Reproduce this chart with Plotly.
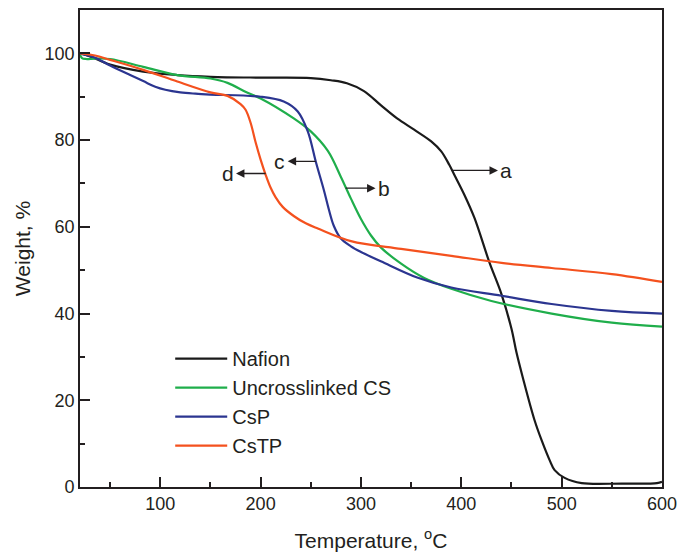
import plotly.graph_objects as go

# ---- data ----
nafion_x = [20, 30, 50, 83, 117, 150, 200, 250, 270, 286, 303, 320, 336, 353, 370, 380, 388, 393, 403, 413, 428, 440, 450, 455, 461, 473, 480, 488, 493, 503, 520, 560, 595, 600]
nafion_y = [100, 99.3, 97.4, 95.8, 95.0, 94.6, 94.4, 94.3, 93.8, 93.1, 91.3, 88.0, 85.0, 82.4, 79.7, 77.4, 74.3, 72.0, 67.4, 62.1, 51.8, 44.5, 36.5, 31.0, 25.5, 15.4, 10.8, 6.2, 3.9, 2.1, 0.9, 0.8, 0.9, 1.2]

ucs_x = [20, 22, 26, 35, 50, 83, 117, 150, 167, 187, 200, 233, 250, 267, 280, 290, 300, 310, 320, 340, 363, 390, 430, 490, 550, 600]
ucs_y = [99.8, 98.9, 98.7, 98.8, 98.7, 96.9, 95.0, 94.2, 93.2, 90.9, 89.6, 85.0, 82.0, 77.5, 71.5, 66.5, 61.8, 58.0, 55.2, 51.5, 48.2, 45.7, 42.9, 40.0, 37.9, 37.0]

csp_x = [20, 35, 50, 70, 83, 95, 105, 120, 135, 150, 200, 223, 237, 247, 255, 263, 268, 273, 280, 290, 300, 323, 356, 390, 440, 490, 550, 600]
csp_y = [100, 99.0, 97.2, 95.0, 93.6, 92.3, 91.6, 91.0, 90.7, 90.5, 90.0, 88.9, 86.6, 82.0, 75.0, 68.5, 64.0, 60.2, 57.3, 55.5, 54.2, 51.7, 48.3, 46.0, 44.1, 42.2, 40.6, 40.0]

cstp_x = [20, 35, 50, 83, 117, 150, 167, 180, 185, 190, 195, 200, 205, 210, 215, 222, 233, 245, 257, 290, 340, 390, 440, 490, 550, 600]
cstp_y = [100, 99.5, 98.5, 96.2, 93.5, 91.0, 90.2, 88.3, 87.0, 84.0, 79.5, 75.5, 72.0, 69.0, 66.8, 64.6, 62.5, 60.8, 59.6, 56.7, 54.9, 53.3, 51.7, 50.5, 49.1, 47.3]

series_names = ["Nafion", "Uncrosslinked CS", "CsP", "CsTP"]
series_colors = ["#1a1a1a", "#1fae4b", "#2b3590", "#f4511e"]

# arrow labels: label, point on curve (x, y), label position x
arrow_labels = ["a", "b", "c", "d"]
arrow_tail_x = [391.7, 284.7, 255.0, 205.0]
arrow_y = [73.0, 68.9, 75.1, 72.3]
label_x = [445.0, 323.0, 219.0, 167.0]

FONT = "Liberation Sans, Arial, sans-serif"
INK = "#231f20"

fig = go.Figure()
for xs, ys, name, col in zip([nafion_x, ucs_x, csp_x, cstp_x],
                             [nafion_y, ucs_y, csp_y, cstp_y],
                             series_names, series_colors):
    fig.add_trace(go.Scatter(x=xs, y=ys, mode="lines", name=name,
                             line=dict(color=col, width=2.2, shape="spline", smoothing=1.0)))

annotations = []
for lab, tx, yy, lx in zip(arrow_labels, arrow_tail_x, arrow_y, label_x):
    annotations.append(dict(x=tx, y=yy, ax=lx, ay=yy, xref="x", yref="y", axref="x", ayref="y",
                            text=lab, showarrow=True, arrowside="start",
                            startarrowhead=2, startarrowsize=1.3, arrowwidth=1.3,
                            arrowcolor=INK, startstandoff=1,
                            font=dict(family=FONT, size=21, color=INK)))

axis_common = dict(showline=True, linecolor=INK, linewidth=1.6, mirror=True,
                   ticks="inside", ticklen=10, tickwidth=1.5, tickcolor=INK,
                   showgrid=False, zeroline=False,
                   tickfont=dict(family=FONT, size=18, color=INK))

fig.update_layout(
    width=694, height=558,
    margin=dict(l=80, r=32, t=8, b=71),
    paper_bgcolor="white", plot_bgcolor="white",
    showlegend=True,
    legend=dict(x=0.155, y=0.31, xanchor="left", yanchor="top",
                bgcolor="rgba(0,0,0,0)", itemwidth=52,
                font=dict(family=FONT, size=20, color=INK),
                tracegroupgap=0),
    annotations=annotations,
    xaxis=dict(range=[20, 600], tick0=0, dtick=100,
               minor=dict(ticks="inside", ticklen=5, dtick=50, tick0=0, tickcolor=INK, tickwidth=1.5),
               title=dict(text="Temperature, <sup>o</sup>C", font=dict(family=FONT, size=21, color=INK), standoff=20),
               **axis_common),
    yaxis=dict(range=[0, 110], tick0=0, dtick=20,
               minor=dict(ticks="inside", ticklen=5, dtick=10, tick0=0, tickcolor=INK, tickwidth=1.5),
               title=dict(text="Weight, %", font=dict(family=FONT, size=21, color=INK), standoff=8),
               **axis_common),
)

fig.write_html("out.html")
